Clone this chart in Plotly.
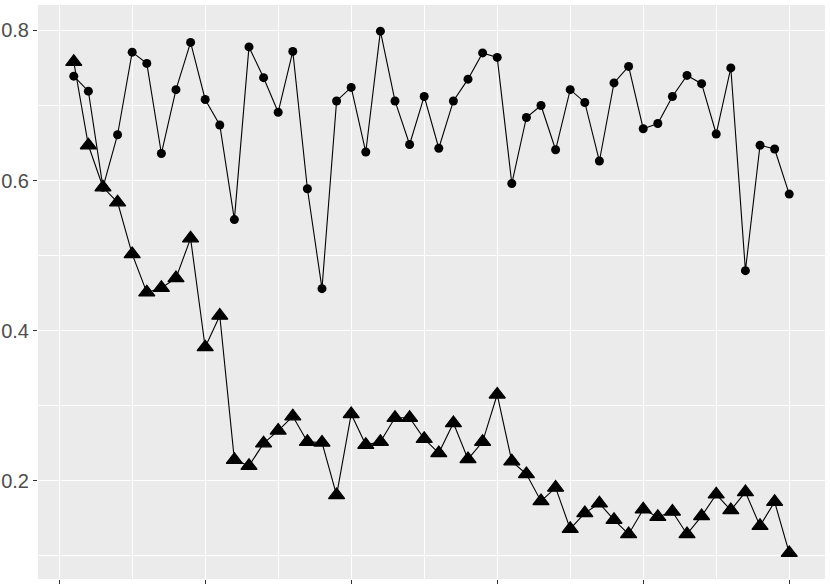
import plotly.graph_objects as go

# index of each observation
idx = list(range(1, 51))

circle_vals = [0.739, 0.719, 0.591, 0.661, 0.771, 0.756, 0.636, 0.721, 0.784, 0.708,
               0.674, 0.548, 0.778, 0.737, 0.691, 0.772, 0.589, 0.456, 0.706, 0.724,
               0.638, 0.799, 0.706, 0.648, 0.712, 0.643, 0.706, 0.735, 0.770, 0.764,
               0.596, 0.684, 0.700, 0.641, 0.721, 0.704, 0.626, 0.730, 0.752, 0.669,
               0.676, 0.712, 0.740, 0.729, 0.662, 0.750, 0.480, 0.647, 0.642, 0.582]

triangle_vals = [0.758, 0.647, 0.591, 0.571, 0.502, 0.451, 0.457, 0.470, 0.523, 0.378,
                 0.420, 0.228, 0.220, 0.250, 0.267, 0.286, 0.252, 0.251, 0.181, 0.289,
                 0.248, 0.252, 0.284, 0.284, 0.256, 0.237, 0.277, 0.229, 0.252, 0.315,
                 0.226, 0.209, 0.173, 0.191, 0.136, 0.157, 0.170, 0.148, 0.129, 0.162,
                 0.152, 0.159, 0.129, 0.153, 0.182, 0.161, 0.185, 0.140, 0.172, 0.104]

y_ticks = [0.2, 0.4, 0.6, 0.8]
x_ticks = [0, 10, 20, 30, 40, 50]

fig = go.Figure()

fig.add_trace(go.Scatter(x=idx, y=circle_vals,
                         mode='lines+markers',
                         line=dict(color='black', width=1.1),
                         marker=dict(symbol='circle', size=9, color='black'),
                         hoverinfo='none'))

fig.add_trace(go.Scatter(x=idx, y=triangle_vals,
                         mode='lines+markers',
                         line=dict(color='black', width=1.1),
                         marker=dict(symbol='triangle-up', size=14, color='black',
                                     line=dict(color='black', width=1.3)),
                         hoverinfo='none'))

# ggplot-like axes: grey panel, white major/minor grid
xaxis = dict(range=[-1.45, 52.45],
             tickvals=x_ticks,
             showticklabels=False,
             ticks='outside', ticklen=4, tickwidth=1, tickcolor='#333333',
             showgrid=True, gridcolor='white', gridwidth=1.4,
             minor=dict(dtick=5, tick0=0, showgrid=True, gridcolor='white', gridwidth=0.7),
             zeroline=False, showline=False, automargin=False)

yaxis = dict(range=[0.0693, 0.8338],
             tickvals=y_ticks,
             ticktext=[str(v) for v in y_ticks],
             ticks='outside', ticklen=4, tickwidth=1, tickcolor='#333333',
             tickfont=dict(family='Liberation Sans', size=20, color='#4D4D4D'),
             showgrid=True, gridcolor='white', gridwidth=1.4,
             minor=dict(dtick=0.1, tick0=0, showgrid=True, gridcolor='white', gridwidth=0.7),
             zeroline=False, showline=False, automargin=False)

fig.update_layout(width=830, height=588,
                  margin=dict(l=38, r=5, t=5, b=9, autoexpand=False),
                  showlegend=False,
                  xaxis=xaxis,
                  yaxis=yaxis,
                  plot_bgcolor='#EBEBEB',
                  paper_bgcolor='white')

# drop the browser's default 8px body margin so the figure sits at the page corner
fig.write_html("out.html", config={'displayModeBar': False},
               post_script="document.body.style.margin='0';")
